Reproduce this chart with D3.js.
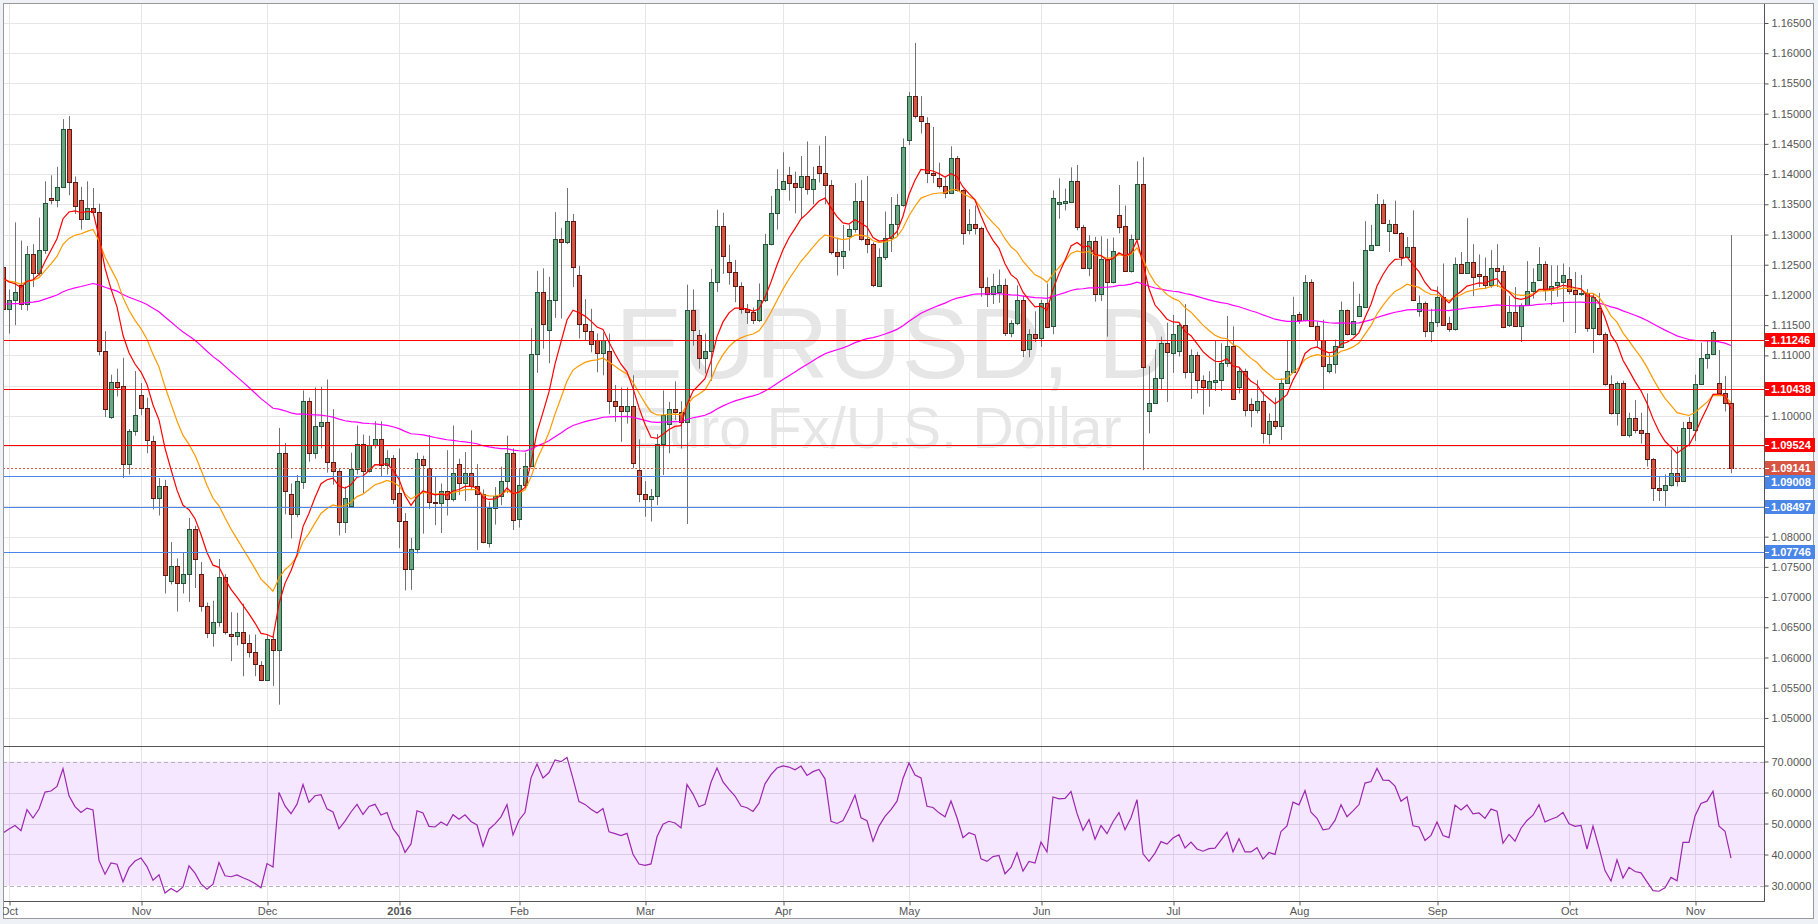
<!DOCTYPE html>
<html><head><meta charset="utf-8">
<script src="https://cdn.jsdelivr.net/npm/d3@7"></script>
<style>
html,body{margin:0;padding:0;background:#fff;overflow:hidden;}
svg{display:block;font-family:Arial,"Liberation Sans",sans-serif;}
</style></head><body>
<svg id="c" width="1818" height="924"></svg>
<script>
// ---- DATA (daily EUR/USD bars, first bar = 30 Sep 2015, index -1) ----
const firstIndex = -1;
const openP = [1.1247,
1.1176,1.1192,1.1217,1.1185,1.1268,1.1237,1.1274,1.1360,1.1357,1.1379,
1.1475,1.1387,1.1357,1.1325,1.1344,1.1337,1.1107,1.0998,1.1056,1.1049,
1.0921,1.0975,1.1035,1.1013,1.0958,1.0864,1.0883,1.0726,1.0752,1.0723,
1.0739,1.0812,1.0739,1.0685,1.0641,1.0658,1.0733,1.0639,1.0636,1.0642,
1.0624,1.0609,1.0587,1.0563,1.0630,1.0613,1.0938,1.0870,1.0837,1.0890,
1.1024,1.0938,1.0983,1.0990,1.0923,1.0909,1.0825,1.0851,1.0912,1.0954,
1.0909,1.0951,1.0962,1.0918,1.0930,1.0872,1.0826,1.0747,1.0779,1.0929,
1.0914,1.0858,1.0855,1.0876,1.0862,1.0920,1.0889,1.0906,1.0883,1.0871,
1.0789,1.0848,1.0867,1.0892,1.0938,1.0829,1.0885,1.0917,1.1102,1.1205,
1.1142,1.1192,1.1293,1.1287,1.1322,1.1233,1.1152,1.1140,1.1126,1.1104,
1.1107,1.1025,1.1017,1.1008,1.1016,1.0910,1.0870,1.0863,1.0867,1.0954,
1.0986,1.1012,1.1006,1.0989,1.1175,1.1134,1.1096,1.1108,1.1221,1.1314,
1.1254,1.1238,1.1214,1.1177,1.1172,1.1158,1.1192,1.1284,1.1335,1.1375,
1.1398,1.1385,1.1378,1.1397,1.1375,1.1413,1.1402,1.1382,1.1271,1.1264,
1.1298,1.1309,1.1356,1.1293,1.1284,1.1215,1.1263,1.1295,1.1318,1.1348,
1.1457,1.1529,1.1496,1.1485,1.1402,1.1393,1.1381,1.1369,1.1426,1.1374,
1.1307,1.1318,1.1310,1.1213,1.1201,1.1205,1.1217,1.1137,1.1153,1.1191,
1.1111,1.1135,1.1128,1.1186,1.1148,1.1350,1.1352,1.1354,1.1388,1.1313,
1.1245,1.1289,1.1202,1.1259,1.1222,1.1332,1.1314,1.1240,1.1293,1.1384,
1.1008,1.1021,1.1062,1.1121,1.1104,1.1107,1.1151,1.1073,1.1100,1.1060,
1.1044,1.1056,1.1059,1.1087,1.1115,1.1048,1.1074,1.1019,1.1010,1.1024,
1.0970,1.0991,1.0983,1.1055,1.1073,1.1168,1.1158,1.1221,1.1148,1.1126,
1.1074,1.1086,1.1114,1.1175,1.1135,1.1165,1.1180,1.1275,1.1283,1.1351,
1.1306,1.1318,1.1303,1.1262,1.1279,1.1174,1.1187,1.1140,1.1155,1.1196,
1.1154,1.1144,1.1252,1.1237,1.1255,1.1234,1.1232,1.1217,1.1245,1.1240,
1.1151,1.1171,1.1149,1.1184,1.1206,1.1225,1.1252,1.1208,1.1216,1.1221,
1.1227,1.1208,1.1201,1.1203,1.1146,1.1178,1.1136,1.1052,1.1004,1.1055,
1.0968,1.0997,1.0977,1.0971,1.0928,1.0881,1.0878,1.0885,1.0906,1.0892,
1.0989,1.0977,1.1053,1.1095,1.1103,1.1055,1.1038,1.1021];
const highP = [1.1254,
1.1209,1.1320,1.1290,1.1281,1.1284,1.1328,1.1388,1.1398,1.1412,1.1491,
1.1496,1.1396,1.1379,1.1388,1.1377,1.1351,1.1140,1.1068,1.1078,1.1096,
1.0978,1.1074,1.1054,1.1030,1.0967,1.0897,1.0894,1.0791,1.0764,1.0774,
1.0831,1.0818,1.0758,1.0691,1.0694,1.0763,1.0738,1.0675,1.0674,1.0689,
1.0638,1.0638,1.0594,1.0638,1.0635,1.0980,1.0955,1.0888,1.0902,1.1042,
1.1030,1.1047,1.1048,1.1060,1.1011,1.0912,1.0883,1.0939,1.0984,1.0969,
1.0967,1.0991,1.0991,1.0943,1.0935,1.0946,1.0839,1.0798,1.0939,1.0934,
1.0968,1.0900,1.0888,1.0943,1.0984,1.0929,1.0940,1.0976,1.0920,1.0878,
1.0858,1.0882,1.0916,1.0967,1.0946,1.0912,1.0939,1.1145,1.1240,1.1244,
1.1230,1.1337,1.1311,1.1377,1.1334,1.1248,1.1193,1.1177,1.1136,1.1138,
1.1136,1.1051,1.1047,1.1047,1.1067,1.0961,1.0892,1.0879,1.0970,1.1042,
1.1023,1.1057,1.1024,1.1217,1.1209,1.1142,1.1136,1.1243,1.1341,1.1336,
1.1283,1.1258,1.1221,1.1185,1.1179,1.1219,1.1301,1.1364,1.1408,1.1436,
1.1412,1.1404,1.1430,1.1454,1.1412,1.1447,1.1463,1.1390,1.1295,1.1316,
1.1316,1.1385,1.1390,1.1397,1.1287,1.1277,1.1338,1.1362,1.1367,1.1459,
1.1536,1.1617,1.1529,1.1494,1.1478,1.1419,1.1395,1.1446,1.1430,1.1375,
1.1342,1.1348,1.1313,1.1229,1.1235,1.1242,1.1227,1.1158,1.1216,1.1199,
1.1143,1.1173,1.1192,1.1219,1.1373,1.1393,1.1376,1.1411,1.1415,1.1316,
1.1299,1.1296,1.1297,1.1293,1.1295,1.1382,1.1348,1.1300,1.1421,1.1428,
1.1082,1.1110,1.1131,1.1154,1.1167,1.1153,1.1185,1.1110,1.1106,1.1067,
1.1074,1.1125,1.1120,1.1165,1.1148,1.1080,1.1078,1.1029,1.1059,1.1040,
1.1004,1.1030,1.1062,1.1125,1.1197,1.1172,1.1233,1.1226,1.1156,1.1159,
1.1103,1.1126,1.1189,1.1176,1.1222,1.1202,1.1322,1.1316,1.1367,1.1358,
1.1324,1.1356,1.1304,1.1296,1.1340,1.1199,1.1189,1.1177,1.1214,1.1252,
1.1164,1.1262,1.1271,1.1327,1.1284,1.1267,1.1262,1.1274,1.1284,1.1249,
1.1198,1.1213,1.1186,1.1256,1.1244,1.1279,1.1256,1.1249,1.1249,1.1252,
1.1246,1.1238,1.1233,1.1210,1.1203,1.1203,1.1138,1.1067,1.1057,1.1058,
1.1005,1.1026,1.1005,1.1037,1.0930,1.0899,1.0903,1.0944,1.0949,1.0990,
1.0998,1.1068,1.1121,1.1124,1.1142,1.1109,1.1066,1.1299];
const lowP = [1.1161,
1.1136,1.1150,1.1175,1.1174,1.1213,1.1232,1.1268,1.1350,1.1345,1.1378,
1.1365,1.1334,1.1308,1.1324,1.1336,1.1100,1.0998,1.0995,1.1032,1.0897,
1.0903,1.0967,1.1001,1.0938,1.0845,1.0835,1.0706,1.0721,1.0676,1.0706,
1.0692,1.0715,1.0676,1.0632,1.0618,1.0651,1.0638,1.0594,1.0620,1.0569,
1.0600,1.0569,1.0561,1.0561,1.0553,1.0522,1.0837,1.0797,1.0832,1.0879,
1.0924,1.0929,1.0946,1.0906,1.0886,1.0802,1.0806,1.0849,1.0903,1.0872,
1.0906,1.0946,1.0900,1.0903,1.0854,1.0781,1.0711,1.0712,1.0772,1.0805,
1.0846,1.0819,1.0806,1.0835,1.0858,1.0869,1.0859,1.0877,1.0778,1.0789,
1.0782,1.0820,1.0852,1.0872,1.0811,1.0815,1.0880,1.0916,1.1071,1.1111,
1.1087,1.1162,1.1161,1.1284,1.1213,1.1128,1.1125,1.1105,1.1072,1.1067,
1.1003,1.0990,1.0957,1.0987,1.0913,1.0857,1.0833,1.0825,1.0852,1.0902,
1.0938,1.0993,1.0946,1.0821,1.1116,1.1078,1.1070,1.1058,1.1205,1.1235,
1.1217,1.1188,1.1169,1.1152,1.1152,1.1155,1.1188,1.1282,1.1308,1.1374,
1.1356,1.1335,1.1326,1.1366,1.1350,1.1386,1.1350,1.1267,1.1232,1.1243,
1.1273,1.1303,1.1290,1.1269,1.1213,1.1214,1.1258,1.1271,1.1296,1.1346,
1.1448,1.1492,1.1467,1.1385,1.1385,1.1376,1.1360,1.1368,1.1371,1.1283,
1.1300,1.1300,1.1197,1.1180,1.1185,1.1187,1.1132,1.1130,1.1150,1.1097,
1.1097,1.1122,1.1114,1.1145,1.1135,1.1326,1.1340,1.1352,1.1307,1.1244,
1.1231,1.1189,1.1190,1.1131,1.1219,1.1302,1.1238,1.1237,1.1292,1.0910,
1.0971,1.1020,1.1043,1.1023,1.1071,1.1098,1.1062,1.1028,1.1037,1.1002,
1.1015,1.1041,1.1041,1.1081,1.1026,1.1037,1.0999,1.0981,1.1004,1.0954,
1.0953,1.0978,1.0960,1.1053,1.1071,1.1152,1.1156,1.1147,1.1113,1.1043,
1.1070,1.1070,1.1114,1.1133,1.1133,1.1164,1.1179,1.1274,1.1282,1.1318,
1.1271,1.1302,1.1248,1.1262,1.1190,1.1164,1.1130,1.1122,1.1147,1.1150,
1.1139,1.1141,1.1235,1.1235,1.1198,1.1213,1.1210,1.1212,1.1213,1.1145,
1.1147,1.1147,1.1122,1.1183,1.1194,1.1224,1.1190,1.1183,1.1197,1.1155,
1.1201,1.1137,1.1198,1.1139,1.1104,1.1133,1.1050,1.1002,1.0984,1.0968,
1.0964,1.0971,1.0954,1.0916,1.0859,1.0859,1.0850,1.0883,1.0883,1.0891,
1.0949,1.0958,1.1052,1.1078,1.1101,1.1037,1.1007,1.0905];
const closeP = [1.1176,
1.1192,1.1205,1.1185,1.1268,1.1237,1.1274,1.1352,1.1357,1.1379,1.1475,
1.1387,1.1347,1.1325,1.1344,1.1338,1.1107,1.1012,1.1056,1.1047,1.0921,
1.0975,1.1001,1.1013,1.0960,1.0864,1.0883,1.0736,1.0752,1.0723,1.0739,
1.0812,1.0763,1.0685,1.0641,1.0658,1.0733,1.0643,1.0636,1.0642,1.0624,
1.0609,1.0589,1.0563,1.0630,1.0613,1.0938,1.0875,1.0837,1.0892,1.1024,
1.0938,1.0983,1.0990,1.0924,1.0909,1.0825,1.0864,1.0912,1.0954,1.0909,
1.0951,1.0962,1.0918,1.0930,1.0862,1.0826,1.0747,1.0779,1.0929,1.0919,
1.0858,1.0855,1.0876,1.0862,1.0906,1.0889,1.0906,1.0883,1.0871,1.0791,
1.0848,1.0867,1.0892,1.0938,1.0828,1.0885,1.0917,1.1102,1.1205,1.1152,
1.1192,1.1293,1.1287,1.1322,1.1247,1.1152,1.1140,1.1119,1.1104,1.1125,
1.1025,1.1017,1.1008,1.1016,1.0922,1.0870,1.0863,1.0867,1.0954,1.1001,
1.1012,1.1006,1.0989,1.1175,1.1142,1.1096,1.1108,1.1221,1.1314,1.1265,
1.1238,1.1214,1.1177,1.1171,1.1158,1.1192,1.1284,1.1335,1.1375,1.1388,
1.1385,1.1378,1.1397,1.1375,1.1392,1.1402,1.1382,1.1271,1.1264,1.1273,
1.1309,1.1356,1.1293,1.1284,1.1217,1.1263,1.1295,1.1318,1.1348,1.1444,
1.1529,1.1496,1.1488,1.1402,1.1398,1.1381,1.1369,1.1426,1.1374,1.1302,
1.1318,1.1310,1.1213,1.1201,1.1214,1.1217,1.1137,1.1153,1.1191,1.1109,
1.1135,1.1128,1.1186,1.1147,1.1361,1.1354,1.1356,1.1388,1.1313,1.1245,
1.1289,1.1202,1.1259,1.1222,1.1272,1.1313,1.1240,1.1293,1.1384,1.1081,
1.1021,1.1062,1.1121,1.1105,1.1135,1.1151,1.1073,1.1100,1.1060,1.1047,
1.1057,1.1059,1.1087,1.1115,1.1027,1.1074,1.1010,1.1010,1.1024,1.0971,
1.0991,1.0983,1.1055,1.1074,1.1167,1.1158,1.1221,1.1148,1.1126,1.1082,
1.1086,1.1115,1.1175,1.1135,1.1157,1.1181,1.1275,1.1283,1.1351,1.1319,
1.1318,1.1303,1.1262,1.1279,1.1191,1.1187,1.1140,1.1155,1.1196,1.1151,
1.1144,1.1252,1.1237,1.1255,1.1229,1.1232,1.1217,1.1245,1.1240,1.1147,
1.1171,1.1149,1.1184,1.1206,1.1221,1.1252,1.1208,1.1215,1.1221,1.1233,
1.1207,1.1201,1.1203,1.1146,1.1196,1.1136,1.1052,1.1004,1.1055,1.0969,
1.0997,1.0977,1.0971,1.0928,1.0881,1.0878,1.0885,1.0906,1.0892,1.0979,
1.0979,1.1053,1.1095,1.1103,1.1138,1.1038,1.1021,1.09141];

const monthLabels = ["Oct","Nov","Dec","2016","Feb","Mar","Apr","May","Jun","Jul","Aug","Sep","Oct","Nov"];
const monthIndex  = [0,22,43,65,85,106,129,150,172,194,215,238,260,281];
const priceTicks = [1.050,1.055,1.060,1.065,1.070,1.075,1.080,1.085,1.090,1.095,1.100,1.105,
                    1.110,1.115,1.120,1.125,1.130,1.135,1.140,1.145,1.150,1.155,1.160,1.165];
const rsiTicks = [30,40,50,60,70];
const redLevels  = [1.11246, 1.10438, 1.09524];
const blueLevels = [1.09008, 1.08497, 1.07746];
const lastPrice  = 1.09141;
// indicator settings and their starting values at the first bar
const fastPeriod = 10, fastSeed = 1.1228;
const midPeriod  = 20, midSeed  = 1.1226;
const longPeriod = 100, longSeed = 1.1185;
const rsiPeriod = 14, rsiSeedGain = 0.0023, rsiSeedLoss = 0.0026;

// ---- DERIVED INDICATORS ----
function ema(vals, period, seed){ const a = 2/(period+1); let v = seed;
  return vals.map((c,k)=> k===0 ? seed : (v = v + a*(c - v))); }
function rsi(vals, period, g0, l0){ let g=g0, l=l0; const out=[100*g/(g+l)];
  for(let k=1;k<vals.length;k++){ const ch = vals[k]-vals[k-1];
    g = (g*(period-1) + Math.max(ch,0))/period; l = (l*(period-1) + Math.max(-ch,0))/period;
    out.push(100*g/(g+l)); } return out; }
const bars = closeP.map((c,k)=>({i:firstIndex+k,o:openP[k],h:highP[k],l:lowP[k],c:c}));
const emaFast = ema(closeP, fastPeriod, fastSeed);
const emaMid  = ema(closeP, midPeriod, midSeed);
const emaLong = ema(closeP, longPeriod, longSeed);
const rsiVals = rsi(closeP, rsiPeriod, rsiSeedGain, rsiSeedLoss);

// ---- LAYOUT ----
const svg = d3.select("#c");
const L = 3, R = 1764, T = 3, PB = 746, RB = 901;
const x  = d3.scaleLinear().domain([-1.5, 292.5]).range([0, R]);
const y  = d3.scaleLinear().domain([1.045357, 1.16831]).range([PB, T]);
const yR = d3.scaleLinear().domain([25, 75]).range([RB, PB]);
const px = v => Math.round(v) + 0.5;

svg.append("rect").attr("width",1818).attr("height",924).attr("fill","#eef1f5");
svg.append("rect").attr("x",L).attr("y",T).attr("width",1814-L).attr("height",919-T).attr("fill","#fff");

const defs = svg.append("defs");
defs.append("clipPath").attr("id","cp").append("rect").attr("x",L).attr("y",T).attr("width",R-L).attr("height",PB-T);
defs.append("clipPath").attr("id","cr").append("rect").attr("x",L).attr("y",PB).attr("width",R-L).attr("height",RB-PB);
defs.append("clipPath").attr("id","cx").append("rect").attr("x",L).attr("y",RB).attr("width",R-L).attr("height",20);

// grid
const grid = svg.append("g").attr("stroke","#e6e6e6").attr("stroke-width",1);
grid.selectAll("line.h").data(priceTicks).join("line").attr("x1",L).attr("x2",R)
  .attr("y1",d=>px(y(d))).attr("y2",d=>px(y(d)));
grid.selectAll("line.v").data(monthIndex).join("line").attr("y1",T).attr("y2",RB)
  .attr("x1",d=>px(x(d))).attr("x2",d=>px(x(d)));

// watermark
const wm = svg.append("g").attr("fill","#e6e6e6").attr("text-anchor","middle").attr("clip-path","url(#cp)");
wm.append("text").attr("x",893).attr("y",378).attr("font-size",101).text("EURUSD, D");
wm.append("text").attr("x",876).attr("y",448).attr("font-size",57).text("Euro Fx/U.S. Dollar");

// candles
const pg = svg.append("g").attr("clip-path","url(#cp)");
const cg = pg.append("g");
cg.selectAll("line").data(bars).join("line")
  .attr("x1",d=>Math.round(x(d.i))+0.5).attr("x2",d=>Math.round(x(d.i))+0.5)
  .attr("y1",d=>y(d.h)).attr("y2",d=>y(d.l)).attr("stroke","#737375").attr("stroke-width",1);
cg.selectAll("rect").data(bars).join("rect")
  .attr("x",d=>Math.round(x(d.i))-1.5).attr("width",4)
  .attr("y",d=>Math.round(y(Math.max(d.o,d.c)))+0.5)
  .attr("height",d=>Math.max(1, Math.round(y(Math.min(d.o,d.c))) - Math.round(y(Math.max(d.o,d.c)))))
  .attr("fill",d=>d.c>=d.o?"#6ba583":"#d75442")
  .attr("stroke",d=>d.c>=d.o?"#225437":"#5b1a13").attr("stroke-width",1);

// moving averages
const maLine = d3.line().x((d,k)=>x(firstIndex+k)).y(d=>y(d));
pg.append("path").attr("d",maLine(emaLong)).attr("fill","none").attr("stroke","#ff00ff").attr("stroke-width",1.2);
pg.append("path").attr("d",maLine(emaMid)).attr("fill","none").attr("stroke","#ff9900").attr("stroke-width",1.2);
pg.append("path").attr("d",maLine(emaFast)).attr("fill","none").attr("stroke","#ff0000").attr("stroke-width",1.2);

// horizontal levels
pg.selectAll("line.rl").data(redLevels).join("line").attr("x1",L).attr("x2",R)
  .attr("y1",d=>px(y(d))).attr("y2",d=>px(y(d))).attr("stroke","#ff0000").attr("stroke-width",1);
pg.selectAll("line.bl").data(blueLevels).join("line").attr("x1",L).attr("x2",R)
  .attr("y1",d=>px(y(d))).attr("y2",d=>px(y(d))).attr("stroke","#4a86e8").attr("stroke-width",1);
pg.append("line").attr("x1",L).attr("x2",R).attr("y1",px(y(lastPrice))).attr("y2",px(y(lastPrice)))
  .attr("stroke","#d75442").attr("stroke-width",1).attr("stroke-dasharray","2,2");

// RSI panel
const rg = svg.append("g").attr("clip-path","url(#cr)");
rg.selectAll("line.g").data([40,50,60]).join("line").attr("x1",L).attr("x2",R)
  .attr("y1",d=>px(yR(d))).attr("y2",d=>px(yR(d))).attr("stroke","#e0e0e0");
rg.append("rect").attr("x",L).attr("width",R-L).attr("y",yR(70)).attr("height",yR(30)-yR(70))
  .attr("fill","rgba(153,21,255,0.1)");
rg.selectAll("line.b").data([70,30]).join("line").attr("x1",L).attr("x2",R)
  .attr("y1",d=>px(yR(d))).attr("y2",d=>px(yR(d))).attr("stroke","#b3b3b3").attr("stroke-dasharray","4,3");
rg.append("path").attr("d",d3.line().x((d,k)=>x(firstIndex+k)).y(d=>yR(d))(rsiVals))
  .attr("fill","none").attr("stroke","#9c27b0").attr("stroke-width",1.2);

// frame / axis lines
const fr = svg.append("g").attr("stroke","#555").attr("stroke-width",1).attr("shape-rendering","crispEdges");
fr.append("line").attr("x1",L+0.5).attr("x2",L+0.5).attr("y1",T).attr("y2",RB);
fr.append("line").attr("x1",R+0.5).attr("x2",R+0.5).attr("y1",T).attr("y2",RB+0.5);
fr.append("line").attr("x1",L).attr("x2",R).attr("y1",PB+0.5).attr("y2",PB+0.5);
fr.append("line").attr("x1",L).attr("x2",R).attr("y1",RB+0.5).attr("y2",RB+0.5);
const fo = svg.append("g").attr("stroke","#999").attr("stroke-width",1).attr("fill","none");
fo.append("rect").attr("x",L+0.5).attr("y",T+0.5).attr("width",1814-L-1).attr("height",919-T-1);

// axes
const allBoxes = redLevels.map(v=>({v,fill:"#ff0000"}))
  .concat([{v:lastPrice,fill:"#d75442"}]).concat(blueLevels.map(v=>({v,fill:"#4a86e8"})));
const visTicks = priceTicks.filter(t=>allBoxes.every(b=>Math.abs(y(t)-y(b.v))>11));
const styleAxis = g => { g.select(".domain").remove();
  g.selectAll(".tick line").attr("stroke","#555");
  g.selectAll("text").attr("fill","#555").attr("font-size",11).attr("font-family","Arial, 'Liberation Sans', sans-serif"); };
svg.append("g").attr("transform",`translate(${R+0.5},0)`)
  .call(d3.axisRight(y).tickValues(visTicks).tickFormat(d3.format(".5f")).tickSize(4).tickPadding(3)).call(styleAxis);
svg.append("g").attr("transform",`translate(${R+0.5},0)`)
  .call(d3.axisRight(yR).tickValues(rsiTicks).tickFormat(d3.format(".4f")).tickSize(4).tickPadding(3)).call(styleAxis);
const xa = svg.append("g").attr("clip-path","url(#cx)").append("g").attr("transform",`translate(0,${RB+0.5})`)
  .call(d3.axisBottom(x).tickValues(monthIndex).tickFormat((d,k)=>monthLabels[k]).tickSize(4).tickPadding(2)).call(styleAxis);
xa.selectAll(".tick line").attr("transform","translate(0.5,0)");
xa.selectAll("text").filter(d=>d===65).attr("font-weight","bold");

// price label boxes with simple collision layout
const bh = 14;
const placed = allBoxes.map(b=>({...b, cy:y(b.v)})).sort((a,b)=>a.cy-b.cy);
for(let k=1;k<placed.length;k++){ if(placed[k].cy < placed[k-1].cy + bh) placed[k].cy = placed[k-1].cy + bh; }
const lb = svg.append("g");
placed.forEach(b=>{
  lb.append("rect").attr("x",R+1).attr("y",Math.round(b.cy-bh/2)).attr("width",50).attr("height",bh).attr("fill",b.fill);
  lb.append("line").attr("x1",R+1).attr("x2",R+5).attr("y1",px(y(b.v))).attr("y2",px(y(b.v))).attr("stroke","#fff");
  lb.append("text").attr("x",R+7).attr("y",b.cy).attr("dy","0.36em").attr("fill","#fff")
    .attr("font-size",11).attr("font-weight","bold").text(d3.format(".5f")(b.v));
});
</script>
</body></html>
